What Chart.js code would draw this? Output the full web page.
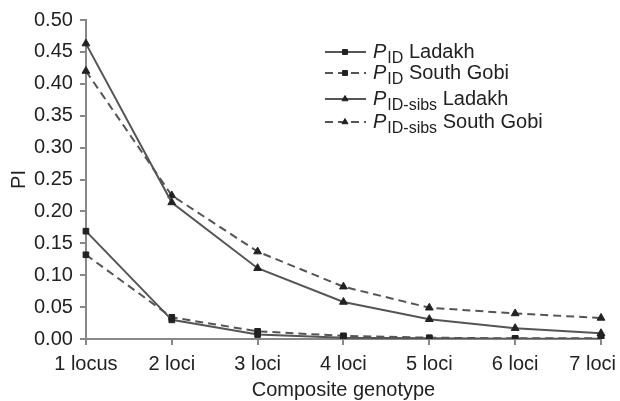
<!DOCTYPE html>
<html>
<head>
<meta charset="utf-8">
<script src="https://cdn.jsdelivr.net/npm/chart.js@4"></script>
<style>
  body { margin: 0; background: #fff; }
  #wrap { width: 620px; height: 401px; }
</style>
</head>
<body>
<div id="wrap"><canvas id="myChart1"></canvas></div>
<script>
const genotypes = ["1 locus", "2 loci", "3 loci", "4 loci", "5 loci", "6 loci", "7 loci"];
const pidLadakh = [0.169, 0.030, 0.007, 0.002, 0.001, 0.0005, 0.0003];
const pidSouthGobi = [0.132, 0.034, 0.012, 0.005, 0.002, 0.001, 0.001];
const sibsLadakh = [0.463, 0.214, 0.111, 0.058, 0.031, 0.017, 0.009];
const sibsSouthGobi = [0.420, 0.225, 0.137, 0.082, 0.049, 0.040, 0.033];
const legendNames = [
  ["P", "ID", " Ladakh"],
  ["P", "ID", " South Gobi"],
  ["P", "ID-sibs", " Ladakh"],
  ["P", "ID-sibs", " South Gobi"],
];

const fontFam = "'Liberation Sans', Arial, sans-serif";
const lineCol = "#555";
const markCol = "#222";
const axisCol = "#888";

function series(data, dashed, shape, r) {
  return {
    data: data,
    borderColor: lineCol,
    borderWidth: 2,
    borderDash: dashed ? [8, 5] : [],
    pointStyle: shape,
    pointRadius: r,
    pointBackgroundColor: markCol,
    pointBorderColor: markCol,
    pointBorderWidth: 1,
    tension: 0,
  };
}

// legend with subscript text, drawn on the canvas
const richLegend = {
  id: "richLegend",
  afterDraw(chart) {
    const ctx = chart.ctx;
    const rows = [52, 73, 99, 122];
    chart.data.datasets.forEach(function (ds, i) {
      const y = rows[i];
      ctx.save();
      ctx.strokeStyle = lineCol;
      ctx.lineWidth = 2;
      ctx.setLineDash(ds.borderDash);
      ctx.beginPath();
      ctx.moveTo(325, y);
      ctx.lineTo(366, y);
      ctx.stroke();
      ctx.setLineDash([]);
      ctx.fillStyle = markCol;
      ctx.strokeStyle = markCol;
      ctx.lineWidth = 1;
      Chart.helpers.drawPoint(ctx, {
        pointStyle: ds.pointStyle, radius: 3.5, borderWidth: 1, rotation: 0
      }, 345, y);
      ctx.fillStyle = "#222";
      ctx.textBaseline = "alphabetic";
      let x = 373;
      ctx.font = "italic 20px " + fontFam;
      ctx.fillText(legendNames[i][0], x, y + 6);
      x += ctx.measureText(legendNames[i][0]).width + 1;
      ctx.font = "16px " + fontFam;
      ctx.fillText(legendNames[i][1], x, y + 11);
      x += ctx.measureText(legendNames[i][1]).width;
      ctx.font = "20px " + fontFam;
      ctx.fillText(legendNames[i][2], x, y + 6);
      ctx.restore();
    });
  },
};

const ctx = document.getElementById("myChart1");

new Chart(ctx, {
  type: "line",
  data: {
    labels: genotypes,
    datasets: [
      series(pidLadakh, false, "rect", 4),
      series(pidSouthGobi, true, "rect", 4),
      series(sibsLadakh, false, "triangle", 4.5),
      series(sibsSouthGobi, true, "triangle", 4.5),
    ],
  },
  options: {
    responsive: true,
    maintainAspectRatio: false,
    animation: false,
    layout: { padding: { top: 20, right: 19, left: 2, bottom: 2 } },
    scales: {
      x: {
        offset: false,
        afterFit: function (scale) { scale.paddingRight = 19; },
        grid: { display: true, drawOnChartArea: false, drawTicks: true, tickLength: 6, color: axisCol, lineWidth: 2 },
        border: { display: true, color: axisCol, width: 2 },
        ticks: {
          color: "#222",
          font: { size: 20, family: fontFam },
          padding: 7,
          maxRotation: 0,
          autoSkip: false,
          // pull the last label in so it stays on the canvas
          callback: function (v, i) {
            const t = genotypes[i];
            return i === genotypes.length - 1 ? t + "\u00a0\u00a0\u00a0" : t;
          },
        },
        title: { display: true, text: "Composite genotype", color: "#222", font: { size: 20, family: fontFam }, padding: { top: -5, bottom: -3 } },
      },
      y: {
        min: 0,
        max: 0.5,
        grid: { display: true, drawOnChartArea: false, drawTicks: true, tickLength: 6, color: axisCol, lineWidth: 2 },
        border: { display: true, color: axisCol, width: 2 },
        ticks: {
          stepSize: 0.05,
          color: "#222",
          font: { size: 20, family: fontFam },
          padding: 7,
          callback: function (v) { return v.toFixed(2); },
        },
        title: { display: true, text: "PI", color: "#222", font: { size: 20, family: fontFam }, padding: { top: 5, bottom: -4 } },
      },
    },
    plugins: {
      legend: { display: false },
      tooltip: { enabled: false },
    },
  },
  plugins: [richLegend],
});
</script>
</body>
</html>
